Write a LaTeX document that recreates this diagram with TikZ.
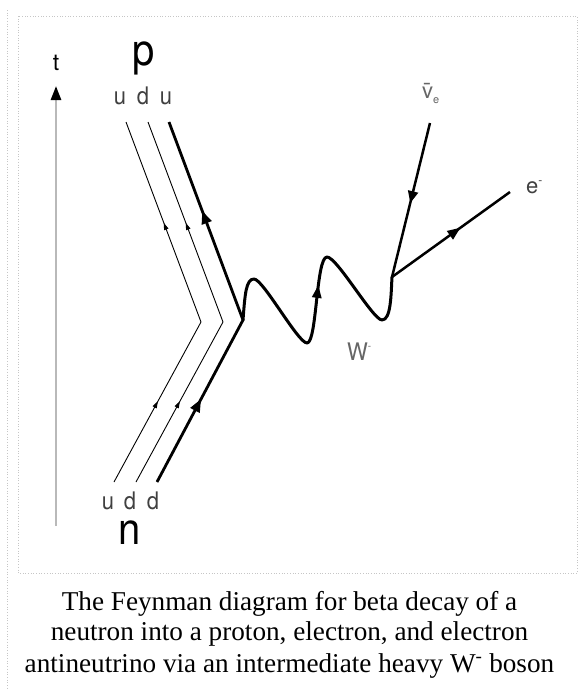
\documentclass[tikz,border=0pt]{standalone}
\usepackage{fontspec}
\setmainfont{Liberation Serif}
\newfontfamily\labelfont{TeX Gyre Heros}
\usetikzlibrary{arrows.meta,decorations.markings}
\begin{document}
\begin{tikzpicture}[x=1pt,y=-1pt,
  frame/.style={draw=gray!45, dotted, line width=0.7pt},
  timeline/.style={draw=gray!55, line width=2.6pt, -{Triangle[length=14pt,width=10pt,black]}},
  thinq/.style={line width=0.9pt, line join=miter},
  thickq/.style={line width=2.8pt, line join=miter},
  boson/.style={line width=3pt, line cap=round, line join=round},
  lepton/.style={line width=2.5pt},
  twoarrows/.style n args={4}{postaction={decorate}, decoration={markings,
      mark=at position #1 with {\arrow{#3}},
      mark=at position #2 with {\arrow{#4}}}},
  onearrow/.style 2 args={postaction={decorate}, decoration={markings,
      mark=at position #1 with {\arrow{#2}}}},
  lbl/.style={inner sep=0pt, anchor=base, font=\labelfont\fontsize{22}{22}\selectfont, text=black!75},
  biglbl/.style={inner sep=0pt, anchor=base, text height=22pt, text depth=9pt, font=\labelfont\fontsize{40}{40}\selectfont, text=black},
  captext/.style={inner sep=0pt, anchor=base, font=\fontsize{27.2}{27.2}\selectfont}
]
\useasboundingbox (0,0) rectangle (579,689);

% frame
\draw[frame] (18,16) rectangle (577,573);
\draw[frame] (7,10) -- (7,689);

% time axis
\coordinate (tbot) at (56,526);
\coordinate (ttop) at (56,86);
\draw[timeline] (tbot) -- (ttop);
\node[inner sep=0pt, font=\labelfont\fontsize{23}{23}\selectfont] (t) at (56,63) {t};

% vertices and quark line points
\coordinate (vA) at (243,320);
\coordinate (vB) at (392,277);
\coordinate (ubot) at (114,482);
\coordinate (ubend) at (201,322);
\coordinate (utop) at (126,122);
\coordinate (dbot) at (136,482);
\coordinate (dbend) at (223,322);
\coordinate (dtop) at (148,122);
\coordinate (qbot) at (157,482);
\coordinate (qtop) at (169,122);
\coordinate (nutop) at (430,123);
\coordinate (etop) at (510,192);

% quark lines
\draw[thinq, twoarrows={92pt}{288pt}{Triangle[length=7pt,width=4.5pt]}{Triangle[length=7pt,width=4.5pt]}]
  (ubot) -- (ubend) -- (utop);
\draw[thinq, twoarrows={92pt}{288pt}{Triangle[length=7pt,width=4.5pt]}{Triangle[length=7pt,width=4.5pt]}]
  (dbot) -- (dbend) -- (dtop);
\draw[thickq, twoarrows={94pt}{300pt}{Triangle[length=13pt,width=10pt]}{Triangle[length=13pt,width=10pt]}]
  (qbot) -- (vA) -- (qtop);

% W boson
\draw[boson, onearrow={0.54}{Triangle[length=13pt,width=9pt]}]
  (vA) .. controls (245,294) and (246,279) .. (254,279)
       .. controls (263,279) and (298,343) .. (307,343)
       .. controls (317,343) and (316,257) .. (327,257)
       .. controls (337,257) and (373,320) .. (382,320)
       .. controls (391,320) and (391,295) .. (vB);

% leptons
\draw[lepton, onearrow={0.52}{Triangle[length=12pt,width=10pt]}] (nutop) -- (vB);
\draw[lepton, onearrow={0.58}{Triangle[length=13pt,width=10pt]}] (vB) -- (etop);

% labels
\node[biglbl] (p) at (144,65) {\scalebox{1}[1.1]{p}};
\node[lbl] (pu1) at (120,104) {\scalebox{1}[1.1]{u}};
\node[lbl] (pd) at (143,104) {\scalebox{1}[1.1]{d}};
\node[lbl] (pu2) at (166,104) {\scalebox{1}[1.1]{u}};
\node[lbl] (nu1) at (108,509) {\scalebox{1}[1.1]{u}};
\node[lbl] (nd1) at (130,509) {\scalebox{1}[1.1]{d}};
\node[lbl] (nd2) at (153,509) {\scalebox{1}[1.1]{d}};
\node[biglbl] (n) at (130,544) {\scalebox{1}[1.1]{n}};
\node[lbl, text=black!60, anchor=base west] (nulab) at (422,98) {\=v\raisebox{-5pt}{\fontsize{11}{11}\selectfont e}};
\node[lbl, anchor=base west] (elab) at (526,193) {e\raisebox{9pt}{\fontsize{12}{12}\selectfont -}};
\node[lbl, text=black!60, anchor=base west] (wlab) at (347,360) {\scalebox{1}[1.1]{W}\raisebox{11pt}{\fontsize{10}{10}\selectfont -}};

% caption
\node[captext] (c1) at (289.5,610) {The Feynman diagram for beta decay of a};
\node[captext] (c2) at (289.5,640) {neutron into a proton, electron, and electron};
\node[captext] (c3) at (289.5,672) {antineutrino via an intermediate heavy W\textsuperscript{-} boson};
\end{tikzpicture}
\end{document}
